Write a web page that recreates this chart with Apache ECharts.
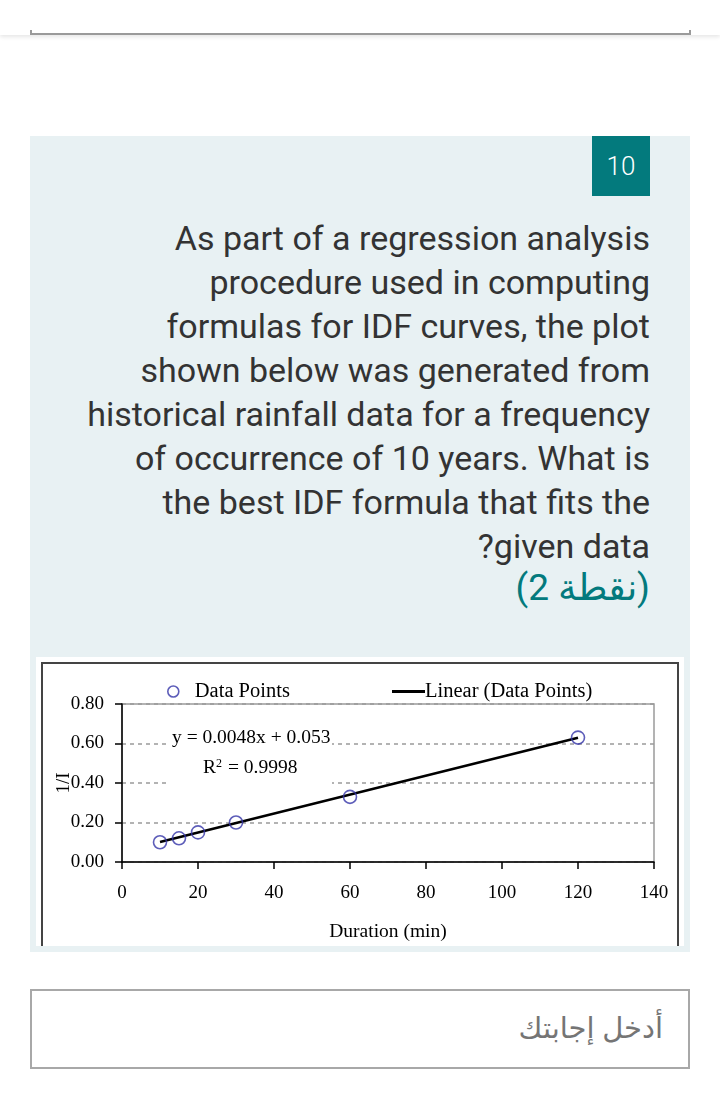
<!DOCTYPE html>
<html>
<head>
<meta charset="utf-8">
<script src="https://cdn.jsdelivr.net/npm/echarts@6/dist/echarts.min.js"></script>
<style>
  html, body { margin:0; padding:0; width:720px; height:1118px; background:#fff; overflow:hidden; font-family: Roboto, "Noto Sans", sans-serif; }
  #header { position:absolute; left:0; top:0; width:720px; height:35px; background:#fff; box-shadow:0 2px 4px rgba(0,0,0,0.10); }
  #prevbox { position:absolute; left:30px; top:30px; width:657px; height:3px; border:2px solid #9a9a9a; border-top:none; }
  #panel { position:absolute; left:30px; top:136px; width:660px; height:816px; background:#e8f1f3; }
  #num { position:absolute; left:562px; top:0; width:58px; height:60px; background:#037a7d; color:#fff; font-size:26px; line-height:60px; text-align:center; font-weight:300; }
  #q { position:absolute; right:70px; top:216px; width:640px; text-align:right; direction:rtl; color:#333; font-size:34px; line-height:44px; }
  #pts { position:absolute; right:70px; top:566px; text-align:right; direction:rtl; color:#037a7d; font-size:37px; line-height:44px; }
  #chartWrap { position:absolute; left:36px; top:657px; width:648px; height:289px; background:#fff; overflow:hidden; }
  #frame { position:absolute; left:5px; top:5px; width:634px; height:290px; border:2px solid #444; border-bottom:none; }
  #chart { position:absolute; left:0; top:0; width:648px; height:289px; }
  #answer { position:absolute; left:30px; top:989px; width:656px; height:76px; border:2px solid #a8a8a8; background:#fff; }
  #answer span { position:absolute; right:25px; top:16px; font-size:29px; color:#757575; direction:rtl; font-family:"Noto Sans", "DejaVu Sans", sans-serif; }
</style>
</head>
<body>
<div id="header"><div id="prevbox"></div></div>
<div id="panel"><div id="num">10</div></div>
<div id="q">As part of a regression analysis<br>procedure used in computing<br>formulas for IDF curves, the plot<br>shown below was generated from<br>historical rainfall data for a frequency<br>of occurrence of 10 years. What is<br>the best IDF formula that fits the<br>given data?</div>
<div id="pts">(نقطة 2)</div>
<div id="chartWrap"><div id="frame"></div><div id="chart"></div></div>
<div id="answer"><span>أدخل إجابتك</span></div>
<script>
// Data
var durations = [10, 15, 20, 30, 60, 120];
var inverseI  = [0.10, 0.12, 0.15, 0.20, 0.33, 0.63];
var trendX = [10, 120];
var trendY = [0.101, 0.629];
var xTicks = [0, 20, 40, 60, 80, 100, 120, 140];
var yTicks = [0, 0.2, 0.4, 0.6, 0.8];
var equationText = 'y = 0.0048x + 0.053';
var r2Text = '0.9998';

var serif = '"Liberation Serif", "Times New Roman", serif';
var chart = echarts.init(document.getElementById('chart'), null, {renderer: 'canvas'});
var scatterData = durations.map(function (d, i) { return [d, inverseI[i]]; });
var trendData = trendX.map(function (d, i) { return [d, trendY[i]]; });

chart.setOption({
  animation: false,
  textStyle: { fontFamily: serif },
  grid: { left: 86, right: 30, top: 47, bottom: 84, containLabel: false, outerBoundsMode: 'none',
          show: true, borderColor: '#9a9a9a', borderWidth: 1.5, backgroundColor: 'transparent' },
  legend: [
    { data: [{name: 'Data Points', icon: 'circle'}], left: 126, top: 19, itemWidth: 11, itemHeight: 11, selectedMode: false,
      itemStyle: { color: 'rgba(0,0,0,0)', borderColor: '#3434a8', borderWidth: 1.6 },
      textStyle: { fontFamily: serif, fontSize: 20.5, color: '#000', padding: [0,0,0,11] } },
    { data: [{name: 'Linear (Data Points)', icon: 'rect'}], left: 351, top: 19, itemWidth: 33, itemHeight: 3, selectedMode: false,
      itemStyle: { color: '#000' },
      textStyle: { fontFamily: serif, fontSize: 20.5, color: '#000', padding: [0,0,0,-5] } }
  ],
  xAxis: {
    type: 'value', min: xTicks[0], max: xTicks[xTicks.length - 1], interval: xTicks[1] - xTicks[0],
    name: 'Duration (min)', nameLocation: 'middle', nameGap: 60, nameMoveOverlap: false,
    nameTextStyle: { fontFamily: serif, fontSize: 19.5, color: '#000' },
    axisLine: { onZero: false, lineStyle: { color: '#000', width: 1.5 } },
    axisTick: { show: true, length: 7, lineStyle: { color: '#000', width: 1.5 } },
    axisLabel: { margin: 22, fontFamily: serif, fontSize: 19, color: '#000' },
    splitLine: { show: false }
  },
  yAxis: {
    type: 'value', min: yTicks[0], max: yTicks[yTicks.length - 1], interval: yTicks[1] - yTicks[0],
    name: '1/I', nameLocation: 'middle', nameGap: 48, nameRotate: 90, nameMoveOverlap: false,
    nameTextStyle: { fontFamily: serif, fontSize: 19, color: '#000' },
    axisLine: { show: true, onZero: false, lineStyle: { color: '#000', width: 1.5 } },
    axisTick: { show: true, length: 7, lineStyle: { color: '#000', width: 1.5 } },
    axisLabel: { margin: 18, fontFamily: serif, fontSize: 19, color: '#000', formatter: function (v) { return v.toFixed(2); } },
    splitLine: { show: true, lineStyle: { color: '#9a9a9a', width: 1.5, type: [4, 4] } }
  },
  series: [
    { name: 'Linear (Data Points)', type: 'line', data: trendData, symbol: 'none', z: 2,
      lineStyle: { color: '#000', width: 2.5 }, itemStyle: { color: '#000' } },
    { name: 'Data Points', type: 'scatter', data: scatterData, symbol: 'circle', symbolSize: 13, z: 3,
      itemStyle: { color: 'rgba(0,0,0,0)', borderColor: '#3434a8', borderWidth: 1.6 } }
  ]
});

chart.setOption({
  graphic: [
    { type: 'rect', left: 131, top: 68, shape: { width: 165, height: 66 }, style: { fill: '#fff' }, z: 1 },
    { type: 'text', left: 136, top: 71, z: 5,
      style: { text: equationText, font: '19.5px ' + serif, fill: '#000' } },
    { type: 'text', left: 167, top: 101, z: 5,
      style: { text: 'R{sup|2} = ' + r2Text, font: '19.5px ' + serif, fill: '#000',
        rich: { sup: { fontSize: 12, verticalAlign: 'top', padding: [0, 1, 8, 0], fontFamily: serif } } } }
  ]
});
</script>
</body>
</html>
